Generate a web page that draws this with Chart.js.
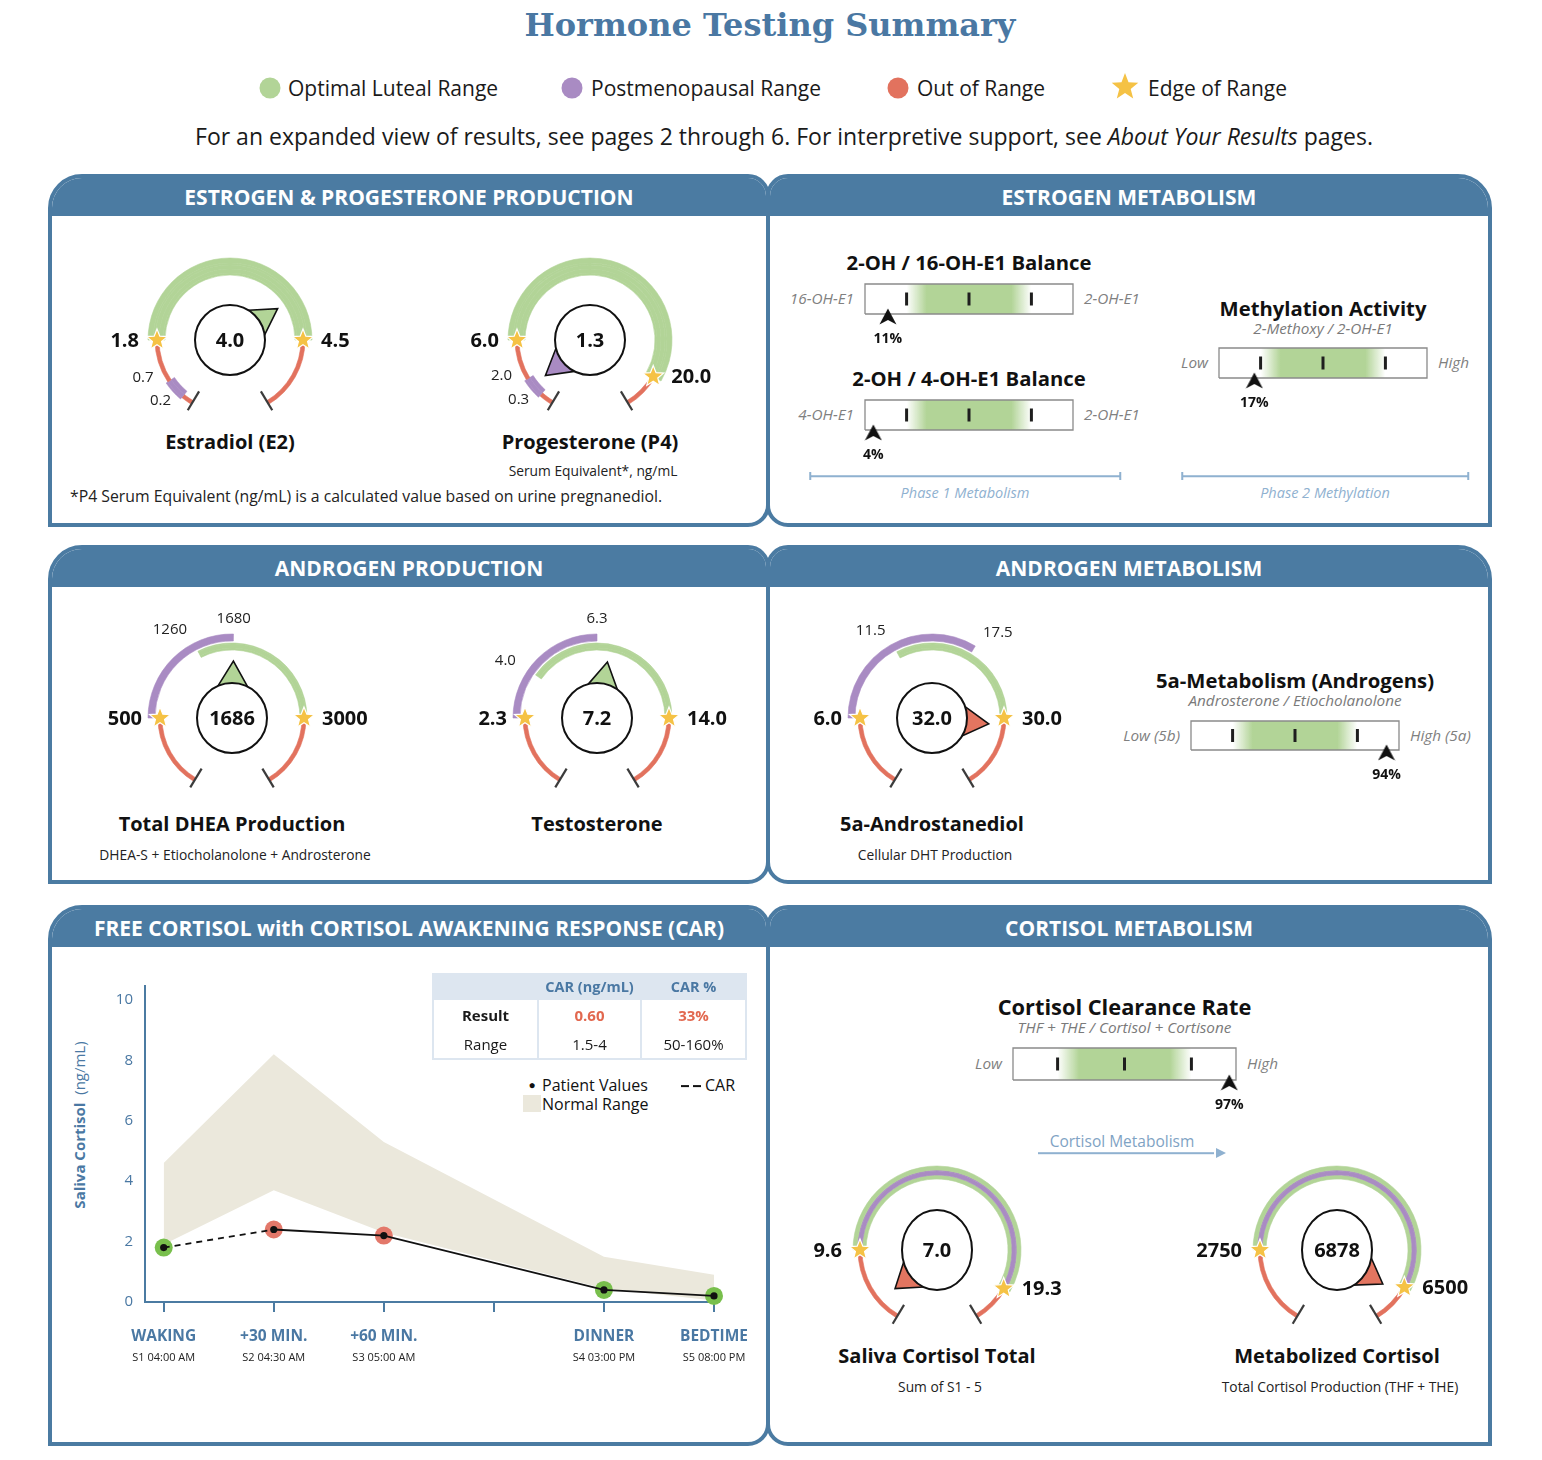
<!DOCTYPE html>
<html>
<head>
<meta charset="utf-8">
<title>Hormone Testing Summary</title>
<script src="https://cdn.jsdelivr.net/npm/chart.js@4.4.1/dist/chart.umd.min.js"></script>
<style>
  html, body { margin: 0; padding: 0; background: #fff; }
  body { width: 1542px; height: 1460px; position: relative; overflow: hidden;
         font-family: 'Open Sans', sans-serif; color: #1a1a1a; }
  .abs { position: absolute; white-space: nowrap; line-height: 1.15; }
  .c { transform: translate(-50%, -50%); text-align: center; }
  .r { transform: translate(-100%, -50%); text-align: right; }
  .l { transform: translate(0, -50%); }
  .panel { position: absolute; box-sizing: border-box; border: 4px solid #4b7ba2; overflow: hidden; background: #fff; }
  .panel .hd { height: 38px; background: #4b7ba2; color: #fff; font-weight: 700; font-size: 21px;
               text-align: center; line-height: 38px; }
  .sep { position: absolute; left: 767px; width: 3px; background: #4b7ba2; }
  canvas { position: absolute; z-index: 5; }
  #car { position: absolute; left: 432px; top: 973px; border-collapse: collapse; font-size: 15px; z-index: 6; }
  #car td, #car th { height: 29px; text-align: center; padding: 0; border-left: 2px solid #dde6f0; border-right: 2px solid #dde6f0; }
  #car th { background: #dde6f0; color: #4a78a3; font-weight: 700; font-size: 14.5px; height: 27px; }
  #car tr:last-child td { border-bottom: 2px solid #dde6f0; }
  #car .b { font-weight: 700; }
  #car .red { color: #e2684f; font-weight: 700; }
</style>
</head>
<body>

<div class="panel" style="left:48px;top:174px;width:722px;height:353px;border-radius:34px 22px 22px 0;"><div class="hd">ESTROGEN &amp; PROGESTERONE PRODUCTION</div></div>
<div class="panel" style="left:766px;top:174px;width:726px;height:353px;border-radius:22px 34px 0 22px;"><div class="hd">ESTROGEN METABOLISM</div></div>
<div class="panel" style="left:48px;top:545px;width:722px;height:339px;border-radius:34px 22px 22px 0;"><div class="hd">ANDROGEN PRODUCTION</div></div>
<div class="panel" style="left:766px;top:545px;width:726px;height:339px;border-radius:22px 34px 0 22px;"><div class="hd">ANDROGEN METABOLISM</div></div>
<div class="panel" style="left:48px;top:905px;width:722px;height:541px;border-radius:34px 22px 22px 0;"><div class="hd">FREE CORTISOL with CORTISOL AWAKENING RESPONSE (CAR)</div></div>
<div class="panel" style="left:766px;top:905px;width:726px;height:541px;border-radius:22px 34px 0 22px;"><div class="hd">CORTISOL METABOLISM</div></div>
<div class="sep" style="top:243px;height:232px;"></div>
<div class="sep" style="top:615px;height:215px;"></div>
<div class="sep" style="top:975px;height:417px;"></div>

<table id="car">
  <tr><th style="width:103px"></th><th style="width:101px">CAR (ng/mL)</th><th style="width:103px">CAR %</th></tr>
  <tr><td class="b">Result</td><td class="red" id="carVal"></td><td class="red" id="carPct"></td></tr>
  <tr><td>Range</td><td id="carRange0"></td><td id="carRange1"></td></tr>
</table>

<script>
// ---- gauge data ----
const gaugeNames = ['Estradiol (E2)', 'Progesterone (P4)', 'Total DHEA Production', 'Testosterone',
  '5a-Androstanediol', 'Saliva Cortisol Total', 'Metabolized Cortisol'];
const gaugeNotes = ['', 'Serum Equivalent*, ng/mL', 'DHEA-S + Etiocholanolone + Androsterone', '',
  'Cellular DHT Production', 'Sum of S1 - 5', 'Total Cortisol Production (THF + THE)'];
const gaugeResults = [4.0, 1.3, 1686, 7.2, 32.0, 7.0, 6878];
const gaugeDigits = [1, 1, 0, 1, 1, 1, 0];
const rangeLow = [1.8, 6.0, 500, 2.3, 6.0, 9.6, 2750];
const rangeHigh = [4.5, 20.0, 3000, 14.0, 30.0, 19.3, 6500];
const lutealLow = [1.8, 6.0, 1260, 4.0, 11.5, 9.6, 2750];
const lutealHigh = [4.5, 20.0, 3000, 14.0, 30.0, 19.3, 6500];
const postmenoLow = [0.2, 0.3, 500, 2.3, 6.0, 9.6, 2750];
const postmenoHigh = [0.7, 2.0, 1680, 6.3, 17.5, 19.3, 6500];
const resultStatus = ['luteal', 'postmeno', 'luteal', 'luteal', 'out', 'out', 'out'];

// ---- ratio / balance bars ----
const balanceNames = ['2-OH / 16-OH-E1 Balance', '2-OH / 4-OH-E1 Balance', 'Methylation Activity',
  '5a-Metabolism (Androgens)', 'Cortisol Clearance Rate'];
const balanceNotes = ['', '', '2-Methoxy / 2-OH-E1', 'Androsterone / Etiocholanolone', 'THF + THE / Cortisol + Cortisone'];
const balanceLeft = ['16-OH-E1', '4-OH-E1', 'Low', 'Low (5b)', 'Low'];
const balanceRight = ['2-OH-E1', '2-OH-E1', 'High', 'High (5a)', 'High'];
const balancePercentile = [11, 4, 17, 94, 97];
const balanceTicks = [20, 50, 80];
const balanceBand = [20, 80];

// ---- saliva cortisol ----
const timeSlots = ['WAKING', '+30 MIN.', '+60 MIN.', '', 'DINNER', 'BEDTIME'];
const slotTimes = ['S1 04:00 AM', 'S2 04:30 AM', 'S3 05:00 AM', '', 'S4 03:00 PM', 'S5 08:00 PM'];
const cortisolPatient = [1.8, 2.4, 2.2, null, 0.4, 0.2];
const normalHigh = [4.6, 8.2, 5.3, null, 1.5, 0.9];
const normalLow = [1.9, 3.7, 2.3, null, 0.45, 0.05];
const sampleInRange = [true, false, false, null, true, true];
const yTicks = [0, 2, 4, 6, 8, 10];
const carRange = ['1.5-4', '50-160%'];

// ---- layout ----
const RAD = Math.PI / 180;
const START = -149, END = 149;
const GREEN = '#b2d497', PURPLE = '#a98bc3', RED = '#e2725e', STAR = '#f5c245', CLEAR = 'rgba(255,255,255,0)';
const BLUE = '#4b7ba2', TXTBLUE = '#4a78a3';
const statusColor = {luteal: GREEN, postmeno: PURPLE, out: '#e37560'};

const gaugeLayout = [
  {cx: 230, cy: 340, style: 'thick', floor: 0, ceil: 10, aLow: -90, aHigh: 90, aPostLow: -140, aPostHigh: -124, capY: 441, noteY: 471},
  {cx: 590, cy: 340, style: 'thick', floor: 0, ceil: 40, aLow: -90, aHigh: 120, aPostLow: -138, aPostHigh: -122, capY: 441, noteY: 471},
  {cx: 232, cy: 718, style: 'dual', floor: 0, ceil: 6000, aLow: -90, aHigh: 90, aLutLow: -27, aPostHigh: 1, capY: 823, noteY: 855},
  {cx: 597, cy: 718, style: 'dual', floor: 0, ceil: 30, aLow: -90, aHigh: 90, aLutLow: -55, aPostHigh: 0, capY: 823, noteY: 855},
  {cx: 932, cy: 718, style: 'dual', floor: 0, ceil: 50, aLow: -90, aHigh: 90, aLutLow: -28, aPostHigh: 31, capY: 823, noteY: 855},
  {cx: 937, cy: 1250, style: 'stripe', floor: 6, ceil: 40, aLow: -90, aHigh: 120, capY: 1355, noteY: 1387},
  {cx: 1337, cy: 1250, style: 'stripe', floor: 0, ceil: 8000, aLow: -90, aHigh: 119, capY: 1355, noteY: 1387}
];
// ring layers, outside -> in: [thickness, paints]
const ringStyles = {
  thick: {R: 82, starR: 73, layers: [[5, 'L'], [2, 'LP'], [4, 'RLP'], [4, 'LP'], [2, 'L']]},
  dual: {R: 84, starR: 72, layers: [[7, 'P'], [2, ''], [1, 'L'], [4, 'RL'], [2, 'L']]},
  stripe: {R: 84, starR: 77, layers: [[4, 'L'], [1, 'P'], [4, 'RP'], [4, 'L']]}
};
const balanceLayout = [
  {x: 865, y: 284, w: 208, h: 30, titleY: 263, titleSize: 20.3},
  {x: 865, y: 400, w: 208, h: 30, titleY: 379, titleSize: 20.3},
  {x: 1219, y: 348, w: 208, h: 30, titleY: 309, noteY: 329, titleSize: 20.3},
  {x: 1191, y: 721, w: 208, h: 29, titleY: 681, noteY: 701, titleSize: 20.3},
  {x: 1013, y: 1048, w: 223, h: 32, titleY: 1007, noteY: 1028, titleSize: 21.8}
];

function put(x, y, html, align, css) {
  const d = document.createElement('div');
  d.className = 'abs ' + (align || 'c');
  d.style.left = x + 'px';
  d.style.top = y + 'px';
  if (css) d.style.cssText += css;
  d.innerHTML = html;
  document.body.appendChild(d);
  return d;
}
function addCanvas(x, y, w, h) {
  const cv = document.createElement('canvas');
  cv.width = w; cv.height = h;
  cv.style.left = x + 'px'; cv.style.top = y + 'px';
  document.body.appendChild(cv);
  return cv;
}
function fmt(v, d) { return v.toFixed(d); }

function drawStar(ctx, x, y) {
  ctx.beginPath();
  for (let k = 0; k < 10; k++) {
    const a = -Math.PI / 2 + k * Math.PI / 5, rr = k % 2 ? 4.8 : 11;
    if (k === 0) ctx.moveTo(x + rr * Math.cos(a), y + rr * Math.sin(a));
    else ctx.lineTo(x + rr * Math.cos(a), y + rr * Math.sin(a));
  }
  ctx.closePath();
  ctx.fillStyle = STAR; ctx.fill();
  ctx.strokeStyle = '#fff'; ctx.lineWidth = 1.2; ctx.stroke();
}

// piecewise scale value -> angle (deg, clockwise from top)
function gaugeScale(i) {
  const L = gaugeLayout[i];
  const knots = [[L.floor, START], [rangeLow[i], L.aLow], [rangeHigh[i], L.aHigh], [L.ceil, END]];
  if (L.aLutLow !== undefined) knots.push([lutealLow[i], L.aLutLow]);
  if (L.aPostLow !== undefined) knots.push([postmenoLow[i], L.aPostLow]);
  if (L.aPostHigh !== undefined) knots.push([postmenoHigh[i], L.aPostHigh]);
  knots.sort((a, b) => a[0] - b[0]);
  return v => {
    if (v <= knots[0][0]) return knots[0][1];
    for (let k = 1; k < knots.length; k++) {
      if (v <= knots[k][0]) {
        const [v0, a0] = knots[k - 1], [v1, a1] = knots[k];
        return v1 === v0 ? a1 : a0 + (a1 - a0) * (v - v0) / (v1 - v0);
      }
    }
    return END;
  };
}

function paintSpans(i, code, scale) {
  if (code === 'L') return [[scale(lutealLow[i]), scale(lutealHigh[i]), GREEN]];
  if (code === 'P') return [[scale(postmenoLow[i]), scale(postmenoHigh[i]), PURPLE]];
  return [[START, scale(rangeLow[i]), RED], [scale(rangeHigh[i]), END, RED]];
}

function ringLayer(i, codes, scale) {
  const spans = [];
  codes.split('').forEach(c => spans.push(...paintSpans(i, c, scale)));
  const cuts = [START, END];
  spans.forEach(s => cuts.push(s[0], s[1]));
  const pts = [...new Set(cuts)].sort((a, b) => a - b);
  const data = [], colors = [];
  for (let k = 0; k < pts.length - 1; k++) {
    const mid = (pts[k] + pts[k + 1]) / 2;
    let col = CLEAR;
    spans.forEach(s => { if (mid > s[0] && mid < s[1]) col = s[2]; });
    if (colors.length && colors[colors.length - 1] === col) data[data.length - 1] += pts[k + 1] - pts[k];
    else { data.push(pts[k + 1] - pts[k]); colors.push(col); }
  }
  data.push(360 - (END - START)); colors.push(CLEAR);
  return {data, colors};
}

function gaugeDecor(i, L, st, scale) {
  return {
    id: 'gaugeDecor',
    afterDatasetsDraw(chart) {
      const ctx = chart.ctx;
      const arc = chart.getDatasetMeta(0).data[0];
      const cx = arc.x, cy = arc.y;
      const pt = (deg, r) => [cx + r * Math.sin(deg * RAD), cy - r * Math.cos(deg * RAD)];
      const d = gaugeDigits[i];
      ctx.save();
      // end marks
      ctx.strokeStyle = '#3b3b3b'; ctx.lineWidth = 2.2;
      [START, END].forEach(a => {
        const p0 = pt(a, st.starR - 13), p1 = pt(a, st.starR + 9);
        ctx.beginPath(); ctx.moveTo(p0[0], p0[1]); ctx.lineTo(p1[0], p1[1]); ctx.stroke();
      });
      // range edges
      const lo = pt(scale(rangeLow[i]), st.starR), hi = pt(scale(rangeHigh[i]), st.starR);
      drawStar(ctx, lo[0], lo[1]);
      drawStar(ctx, hi[0], hi[1]);
      ctx.fillStyle = '#111'; ctx.textBaseline = 'middle';
      ctx.font = '700 20px "Open Sans"';
      ctx.textAlign = 'right'; ctx.fillText(fmt(rangeLow[i], d), lo[0] - 18, lo[1] + 1);
      ctx.textAlign = 'left'; ctx.fillText(fmt(rangeHigh[i], d), hi[0] + 18, hi[1] + 1);
      // inner range values
      ctx.font = '400 15px "Open Sans"'; ctx.fillStyle = '#222';
      if (L.style === 'thick') {
        const ph = pt(scale(postmenoHigh[i]), st.starR), pl = pt(scale(postmenoLow[i]), st.starR);
        ctx.textAlign = 'right';
        ctx.fillText(fmt(postmenoHigh[i], d), ph[0] - 16, ph[1] - 3);
        ctx.fillText(fmt(postmenoLow[i], d), pl[0] - 12, pl[1] + 5);
      } else if (L.style === 'dual') {
        [lutealLow[i], postmenoHigh[i]].forEach(v => {
          const a = scale(v), p = pt(a, 99), s = Math.sin(a * RAD);
          ctx.textAlign = s < -0.2 ? 'right' : (s > 0.2 ? 'left' : 'center');
          ctx.fillText(fmt(v, d), p[0], p[1]);
        });
      }
      // pointer + value bubble
      const a = scale(gaugeResults[i]);
      const rx = 35, ry = L.style === 'stripe' ? 40 : 35;
      const ep = deg => [cx + rx * Math.sin(deg * RAD), cy - ry * Math.cos(deg * RAD)];
      const b1 = ep(a - 25), b2 = ep(a + 25), tip = pt(a, 57);
      ctx.beginPath(); ctx.moveTo(b1[0], b1[1]); ctx.lineTo(tip[0], tip[1]); ctx.lineTo(b2[0], b2[1]); ctx.closePath();
      ctx.fillStyle = statusColor[resultStatus[i]]; ctx.fill();
      ctx.strokeStyle = '#111'; ctx.lineWidth = 1.6; ctx.lineJoin = 'miter'; ctx.stroke();
      ctx.beginPath(); ctx.ellipse(cx, cy, rx, ry, 0, 0, Math.PI * 2);
      ctx.fillStyle = '#fff'; ctx.fill(); ctx.lineWidth = 2; ctx.stroke();
      ctx.fillStyle = '#111'; ctx.font = '700 20px "Open Sans"'; ctx.textAlign = 'center';
      ctx.fillText(fmt(gaugeResults[i], d), cx, cy + 1);
      ctx.restore();
    }
  };
}

function makeGauge(i) {
  const L = gaugeLayout[i], st = ringStyles[L.style], scale = gaugeScale(i);
  const W = 360, H = 270;
  const cv = addCanvas(L.cx - W / 2, L.cy - H / 2, W, H);
  const total = st.layers.reduce((s, l) => s + l[0], 0);
  const datasets = st.layers.map(([w, codes]) => {
    const {data, colors} = ringLayer(i, codes, scale);
    return {data, backgroundColor: colors, borderColor: colors, borderWidth: 0.6, weight: w};
  });
  new Chart(cv, {
    type: 'doughnut',
    data: {datasets},
    options: {
      responsive: false, animation: false, events: [],
      rotation: START, radius: st.R, cutout: ((st.R - total) / st.R * 100) + '%',
      layout: {padding: 0, autoPadding: false},
      plugins: {legend: {display: false}, tooltip: {enabled: false}}
    },
    plugins: [gaugeDecor(i, L, st, scale)]
  });
  put(L.cx, L.capY, gaugeNames[i], 'c', 'font-weight:700;font-size:20px;color:#111;');
  if (gaugeNotes[i]) put(L.cx + 3, L.noteY, gaugeNotes[i], 'c', 'font-size:13.8px;color:#222;');
}

// arrowhead used as point style
const arrowImg = document.createElement('canvas');
arrowImg.width = 18; arrowImg.height = 17;
(function () {
  const c = arrowImg.getContext('2d');
  c.beginPath(); c.moveTo(9, 0.5); c.lineTo(17.5, 16.5); c.lineTo(9, 12); c.lineTo(0.5, 16.5); c.closePath();
  c.fillStyle = '#111'; c.fill();
})();

function makeBalance(i) {
  const b = balanceLayout[i];
  const pad = 26, padTop = 2, below = 16, axisH = 20;
  const top = below + b.h;
  const cv = addCanvas(b.x - pad, b.y - padTop, b.w + 2 * pad, padTop + top + axisH);
  const midY = below + b.h / 2;
  new Chart(cv, {
    type: 'line',
    data: {datasets: [
      {data: balanceTicks.map(v => ({x: v, y: midY})), showLine: false, pointStyle: 'line', pointRotation: 90,
       pointRadius: 6.5, pointBorderWidth: 3, pointBorderColor: '#1e1e1e', order: 0, clip: false},
      {data: [{x: balancePercentile[i], y: below + 6 - 8.5}], showLine: false, pointStyle: arrowImg, pointRadius: 9, order: 0, clip: false},
      {data: [{x: 0, y: below}, {x: 100, y: below}, {x: 100, y: top}, {x: 0, y: top}, {x: 0, y: below}],
       borderColor: '#8a8a8a', borderWidth: 1.3, pointRadius: 0, order: 1, clip: false},
      {data: balanceBand.map(v => ({x: v, y: top})), borderWidth: 0, pointRadius: 0, order: 3},
      {data: balanceBand.map(v => ({x: v, y: below})), borderWidth: 0, pointRadius: 0, order: 2, fill: '-1',
       backgroundColor: ctx => {
         const ch = ctx.chart;
         if (!ch.chartArea) return GREEN;
         const x0 = ch.scales.x.getPixelForValue(balanceBand[0]), x1 = ch.scales.x.getPixelForValue(balanceBand[1]);
         const g = ch.ctx.createLinearGradient(x0, 0, x1, 0);
         g.addColorStop(0, 'rgba(178,212,151,0)');
         g.addColorStop(0.16, 'rgba(178,212,151,1)');
         g.addColorStop(0.84, 'rgba(178,212,151,1)');
         g.addColorStop(1, 'rgba(178,212,151,0)');
         return g;
       }}
    ]},
    options: {
      responsive: false, animation: false, events: [],
      layout: {padding: {left: pad, right: pad, top: padTop, bottom: 0}, autoPadding: false},
      plugins: {legend: {display: false}, tooltip: {enabled: false}},
      scales: {
        x: {type: 'linear', min: 0, max: 100, grid: {display: false, drawTicks: false}, border: {display: false},
            afterBuildTicks: s => { s.ticks = [{value: balancePercentile[i]}]; },
            afterFit: s => { s.height = axisH; },
            ticks: {callback: v => v + '%', font: {family: 'Open Sans', weight: '700', size: 14}, color: '#111',
                    padding: 1, maxRotation: 0, autoSkip: false}},
        y: {type: 'linear', min: 0, max: top, display: false}
      }
    }
  });
  const cx = b.x + b.w / 2;
  put(cx, b.titleY, balanceNames[i], 'c', 'font-weight:700;font-size:' + b.titleSize + 'px;color:#111;');
  if (balanceNotes[i]) put(cx, b.noteY, balanceNotes[i], 'c', 'font-style:italic;font-size:15.3px;color:#7a7a7a;');
  put(b.x - 11, b.y + b.h / 2, balanceLeft[i], 'r', 'font-style:italic;font-size:15.3px;color:#808080;');
  put(b.x + b.w + 11, b.y + b.h / 2, balanceRight[i], 'l', 'font-style:italic;font-size:15.3px;color:#808080;');
}

function makeCortisolChart() {
  const pts = arr => arr.map((v, k) => v === null ? null : {x: k, y: v}).filter(p => p);
  const halo = sampleInRange.filter(v => v !== null).map(v => v ? '#78bf4c' : '#e3786a');
  const slotTicks = s => { s.ticks = timeSlots.map((t, k) => ({value: k})); };
  const cv = addCanvas(90, 965, 680, 406);
  new Chart(cv, {
    type: 'line',
    data: {datasets: [
      {data: pts(cortisolPatient), borderColor: '#111', borderWidth: 1.8, pointRadius: 3.6, pointBackgroundColor: '#111',
       pointBorderWidth: 0, tension: 0, order: 0, clip: false,
       segment: {borderDash: c => c.p0DataIndex === 0 ? [6, 5] : []}},
      {data: pts(cortisolPatient), showLine: false, pointRadius: 9, pointBackgroundColor: halo, pointBorderWidth: 0, order: 1, clip: false},
      {data: pts(normalHigh), borderWidth: 0, pointRadius: 0, order: 3},
      {data: pts(normalLow), borderWidth: 0, pointRadius: 0, order: 2, fill: '-1', backgroundColor: '#ebe8dc'}
    ]},
    options: {
      responsive: false, animation: false, events: [],
      layout: {padding: {left: 0, right: 56, top: 18, bottom: 0}, autoPadding: false},
      plugins: {legend: {display: false}, tooltip: {enabled: false}},
      scales: {
        x: {type: 'linear', min: -0.17, max: timeSlots.length - 1, position: 'bottom',
            afterBuildTicks: slotTicks, afterFit: s => { s.height = 45; },
            grid: {display: true, drawOnChartArea: false, drawTicks: true, tickLength: 10, color: BLUE, lineWidth: 2},
            border: {display: true, color: BLUE, width: 2},
            ticks: {callback: v => timeSlots[v], font: {family: 'Open Sans', weight: '700', size: 15.5}, color: TXTBLUE,
                    padding: 15, maxRotation: 0, autoSkip: false}},
        x2: {type: 'linear', axis: 'x', min: -0.17, max: timeSlots.length - 1, position: 'bottom',
             afterBuildTicks: slotTicks, afterFit: s => { s.height = 24; },
             grid: {display: false, drawTicks: false}, border: {display: false},
             ticks: {callback: v => slotTimes[v], font: {family: 'Open Sans', size: 11}, color: '#222',
                     padding: 4, maxRotation: 0, autoSkip: false}},
        y: {type: 'linear', min: 0, max: 10.46,
            afterBuildTicks: s => { s.ticks = yTicks.map(v => ({value: v})); },
            afterFit: s => { s.width = 55; },
            grid: {display: false, drawTicks: false}, border: {display: true, color: BLUE, width: 2},
            ticks: {font: {family: 'Open Sans', size: 15}, color: TXTBLUE, padding: 12}}
      }
    }
  });
  put(80, 1125, '<b>Saliva Cortisol</b>&nbsp; (ng/mL)', 'c', 'transform:translate(-50%,-50%) rotate(-90deg);font-size:15px;color:' + TXTBLUE + ';');
  // CAR table values from the samples
  const car = cortisolPatient[1] - cortisolPatient[0];
  document.getElementById('carVal').textContent = car.toFixed(2);
  document.getElementById('carPct').textContent = Math.round(car / cortisolPatient[0] * 100) + '%';
  document.getElementById('carRange0').textContent = carRange[0];
  document.getElementById('carRange1').textContent = carRange[1];
  // legend
  put(532, 1085, '&#9679;', 'c', 'font-size:12px;color:#111;');
  put(542, 1085, 'Patient Values', 'l', 'font-size:16px;color:#111;');
  put(681, 1086, '', 'l', 'width:8px;height:1.8px;background:#111;');
  put(693, 1086, '', 'l', 'width:8px;height:1.8px;background:#111;');
  put(705, 1085, 'CAR', 'l', 'font-size:16px;color:#111;');
  put(523, 1095, '', 'l', 'transform:none;width:18px;height:17px;background:#ebe8dc;');
  put(542, 1104, 'Normal Range', 'l', 'font-size:16px;color:#111;');
}

// ---- page text ----
put(770, 25, 'Hormone Testing Summary', 'c', 'font-family:"DejaVu Serif",serif;font-weight:700;font-size:32px;color:' + TXTBLUE + ';');
const legendDot = (x, col) => put(x, 88, '', 'c', 'width:21px;height:21px;border-radius:50%;background:' + col + ';');
legendDot(270, GREEN); put(288, 88, 'Optimal Luteal Range', 'l', 'font-size:21px;');
legendDot(572, PURPLE); put(591, 88, 'Postmenopausal Range', 'l', 'font-size:21px;');
legendDot(898, '#e2725e'); put(917, 88, 'Out of Range', 'l', 'font-size:21px;');
put(1125, 87, '<svg width="30" height="30" viewBox="0 0 30 30"><polygon fill="' + STAR + '" points="15,1 18.5,10.2 28.3,10.7 20.7,16.9 23.2,26.4 15,21 6.8,26.4 9.3,16.9 1.7,10.7 11.5,10.2"/></svg>', 'c', 'line-height:0;');
put(1148, 88, 'Edge of Range', 'l', 'font-size:21px;');
put(784, 136, 'For an expanded view of results, see pages 2 through 6. For interpretive support, see <i>About Your Results</i> pages.', 'c', 'font-size:23px;');
put(70, 496, '*P4 Serum Equivalent (ng/mL) is a calculated value based on urine pregnanediol.', 'l', 'font-size:15.8px;color:#222;');

// brackets
function bracket(x0, x1, y, label) {
  put(x0, y, '', 'l', 'width:' + (x1 - x0) + 'px;height:1.5px;background:#8fb1d0;');
  put(x0, y, '', 'c', 'width:1.5px;height:8px;background:#8fb1d0;');
  put(x1, y, '', 'c', 'width:1.5px;height:8px;background:#8fb1d0;');
  put((x0 + x1) / 2, y + 17, label, 'c', 'font-style:italic;font-size:14.5px;color:#8fb1d0;');
}
bracket(810, 1120, 476, 'Phase 1 Metabolism');
bracket(1182, 1468, 476, 'Phase 2 Methylation');
put(1122, 1142, 'Cortisol Metabolism', 'c', 'font-size:15.5px;color:#7fa3c4;');
put(1038, 1153, '', 'l', 'width:176px;height:1.6px;background:#8fb1d0;');
put(1216, 1153, '<svg width="10" height="10" viewBox="0 0 10 10"><polygon points="0,0 10,5 0,10" fill="#8fb1d0"/></svg>', 'l', 'line-height:0;');

gaugeNames.forEach((n, i) => makeGauge(i));
balanceNames.forEach((n, i) => makeBalance(i));
makeCortisolChart();
</script>
</body>
</html>
